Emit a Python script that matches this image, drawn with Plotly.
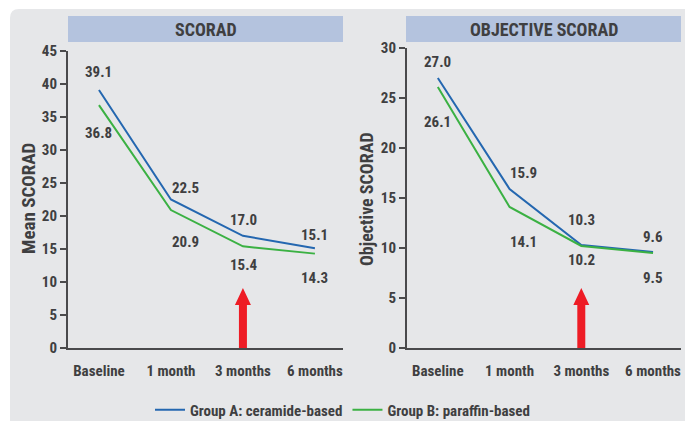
import plotly.graph_objects as go

# ---- data -------------------------------------------------------------
categories = ["Baseline", "1 month", "3 months", "6 months"]
scorad_a = [39.1, 22.5, 17.0, 15.1]      # Group A: ceramide-based
scorad_b = [36.8, 20.9, 15.4, 14.3]      # Group B: paraffin-based
objective_a = [27.0, 15.9, 10.3, 9.6]
objective_b = [26.1, 14.1, 10.2, 9.5]
panel_titles = ["SCORAD", "OBJECTIVE SCORAD"]
y_titles = ["Mean SCORAD", "Objective SCORAD"]
series_names = ["Group A: ceramide-based", "Group B: paraffin-based"]

# ---- styling ----------------------------------------------------------
W, H = 685, 421
FONT = "Liberation Sans Narrow, Roboto Condensed, Roboto, Arial Narrow, sans-serif"
TXT = "#3f3f41"
AXIS = "#4a4a4c"
BLUE = "#2467b0"
GREEN = "#3bb143"
PANEL = "#e6e7e9"
BANNER = "#b4c3de"
RED = "#ee1c25"

# label offsets (px) for the value annotations
shift_a = [[18, 12, 16, 13], [16, 16, 25, 15]]
shift_b = [[-28, -32, -19, -24], [-35, -35, -14, -25]]
xshift = [[0, 15, 1, 0], [0, 14, 0, 0]]


def px(x):
    return x / W


def py(y):
    return 1 - y / H


fig = go.Figure()

panels = [
    dict(xa="x", ya="y", a=scorad_a, b=scorad_b, yr=[0, 45], dt=5,
         xd=[68, 343], ytop=51, banner=[68, 343], arrow_tip=9.1),
    dict(xa="x2", ya="y2", a=objective_a, b=objective_b, yr=[0, 30], dt=5,
         xd=[407, 681], ytop=48, banner=[406, 681], arrow_tip=6.0),
]
Y0 = 348  # pixel row of the zero line

shapes = []
annotations = []

# outer grey panel with rounded top-left corner
rx, ry = 9 / W, 9 / H
x0p, y0p = px(10), py(9)
shapes.append(dict(
    type="path", xref="paper", yref="paper", layer="below",
    path=(f"M {x0p},{py(H + 5)} L {x0p},{y0p - ry} Q {x0p},{y0p} {x0p + rx},{y0p} "
          f"L {px(W + 5)},{y0p} L {px(W + 5)},{py(H + 5)} Z"),
    fillcolor=PANEL, line=dict(width=0)))

layout_axes = {}
for i, p in enumerate(panels):
    xname = "xaxis" if i == 0 else "xaxis2"
    yname = "yaxis" if i == 0 else "yaxis2"
    for vals, name, color in ((p["a"], series_names[0], BLUE), (p["b"], series_names[1], GREEN)):
        fig.add_trace(go.Scatter(
            x=categories, y=vals, mode="lines", name=name,
            line=dict(color=color, width=2),
            xaxis=p["xa"], yaxis=p["ya"], showlegend=(i == 0),
            hoverinfo="skip"))

    layout_axes[xname] = dict(
        domain=[px(p["xd"][0]), px(p["xd"][1])],
        anchor=p["ya"], type="category", range=[-0.43, 3.39],
        showline=True, linecolor=AXIS, linewidth=2, showgrid=False, zeroline=False,
        ticks="outside", ticklen=8, tickcolor="rgba(0,0,0,0)",
        tickfont=dict(family=FONT, size=15, color=TXT, weight="bold"),
        automargin=False, fixedrange=True)
    layout_axes[yname] = dict(
        domain=[py(Y0), py(p["ytop"])],
        anchor=p["xa"], range=p["yr"], dtick=p["dt"], tick0=0,
        showline=True, linecolor=AXIS, linewidth=2, showgrid=False, zeroline=False,
        ticks="outside", ticklen=6, tickwidth=2, tickcolor=AXIS,
        tickfont=dict(family=FONT, size=15, color=TXT, weight="bold"),
        automargin=False, fixedrange=True)

    # title banner
    b0, b1 = p["banner"]
    shapes.append(dict(type="rect", xref="paper", yref="paper", layer="below",
                       x0=px(b0), x1=px(b1), y0=py(42), y1=py(16),
                       fillcolor=BANNER, line=dict(width=0)))
    annotations.append(dict(
        xref="paper", yref="paper", x=px((b0 + b1) / 2), y=py(29.5),
        xanchor="center", yanchor="middle",
        text=panel_titles[i], showarrow=False,
        font=dict(family=FONT, size=18, color=TXT, weight="bold")))

    # y-axis title
    annotations.append(dict(
        xref="paper", yref="paper", x=px(28 if i == 0 else 366), y=py(199),
        xanchor="center", yanchor="middle",
        text=y_titles[i], showarrow=False, textangle=-90,
        font=dict(family=FONT, size=19 if i == 0 else 18, color=TXT, weight="bold")))

    # value labels
    for j, cat in enumerate(categories):
        for vals, shifts in ((p["a"], shift_a[i]), (p["b"], shift_b[i])):
            annotations.append(dict(
                xref=p["xa"], yref=p["ya"], x=cat, y=vals[j],
                xanchor="center", yanchor="middle",
                text=f"{vals[j]:.1f}", showarrow=False,
                xshift=xshift[i][j], yshift=shifts[j],
                font=dict(family=FONT, size=15, color=TXT, weight="bold")))

    # red arrow pointing up at "3 months"
    upp = (p["yr"][1] - p["yr"][0]) / (Y0 - p["ytop"])   # data units per pixel
    xpp = 1 / 72.0
    tip = p["arrow_tip"]
    base = tip - 17 * upp
    cx = 2
    sw, hw = 4 * xpp, 8 * xpp
    shapes.append(dict(
        type="path", xref=p["xa"], yref=p["ya"], layer="above",
        path=(f"M {cx - sw},0 L {cx - sw},{base} L {cx - hw},{base} L {cx},{tip} "
              f"L {cx + hw},{base} L {cx + sw},{base} L {cx + sw},0 Z"),
        fillcolor=RED, line=dict(width=0)))

fig.update_layout(
    width=W, height=H,
    margin=dict(l=0, r=0, t=0, b=0, autoexpand=False),
    paper_bgcolor="white", plot_bgcolor="rgba(0,0,0,0)",
    shapes=shapes, annotations=annotations,
    legend=dict(orientation="h", x=0.5, xanchor="center", y=py(410), yanchor="middle",
                bgcolor="rgba(0,0,0,0)", itemwidth=30,
                font=dict(family=FONT, size=15, color=TXT, weight="bold")),
    **layout_axes,
)

fig.write_html("out.html")
